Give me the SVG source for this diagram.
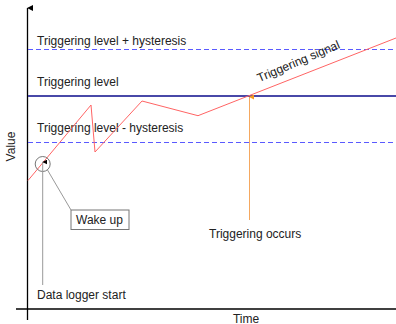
<svg xmlns="http://www.w3.org/2000/svg" width="396" height="324" viewBox="0 0 396 324">
<defs>
<style>
text{font-family:"Liberation Sans",Arial,sans-serif;font-size:12px;fill:#222}
.dash{stroke:#5a5aff;stroke-width:1;stroke-dasharray:5,3;fill:none}
.axis{stroke:#000;stroke-width:1.3;fill:none}
.gray{stroke:#999;stroke-width:1;fill:none}
</style>
<marker id="ah" viewBox="0 0 6 6" refX="3" refY="0.5" markerWidth="6" markerHeight="6" orient="auto-start-reverse" markerUnits="userSpaceOnUse">
<path d="M0,6 L3,0 L6,6 Z" fill="#000"/>
</marker>
<marker id="ahs" viewBox="0 0 6 6" refX="3" refY="0.5" markerWidth="5" markerHeight="5" orient="auto-start-reverse" markerUnits="userSpaceOnUse">
<path d="M0,6 L3,0 L6,6 Z" fill="#000"/>
</marker>
<marker id="aho" viewBox="0 0 6 6" refX="3" refY="0.5" markerWidth="5" markerHeight="5" orient="auto-start-reverse" markerUnits="userSpaceOnUse">
<path d="M0,6 L3,0 L6,6 Z" fill="#f59a20"/>
</marker>
</defs>
<g id="axes">
<line class="axis" x1="27.5" y1="320" x2="27.5" y2="8" marker-end="url(#ah)"/>
<line class="axis" x1="16" y1="309" x2="396" y2="309"/>
<text x="15" y="146.5" text-anchor="middle" transform="rotate(-90 15 146.5)">Value</text>
<text x="246" y="322.5" text-anchor="middle">Time</text>
</g>
<g id="levels">
<line class="dash" x1="28" y1="49.5" x2="396" y2="49.5"/>
<line x1="28" y1="96" x2="396" y2="96" stroke="#4848a8" stroke-width="1.8"/>
<line class="dash" x1="28" y1="142.5" x2="396" y2="142.5"/>
<text x="37" y="45">Triggering level + hysteresis</text>
<text x="37" y="86">Triggering level</text>
<text x="37" y="132">Triggering level - hysteresis</text>
</g>
<g id="signal">
<polyline points="28,180.5 91,105 95,152 142,101 198,115.7 396,38" fill="none" stroke="#ff6464" stroke-width="1"/>
<text x="300" y="65" text-anchor="middle" transform="rotate(-23 300 65)">Triggering signal</text>
</g>
<g id="wake">
<circle cx="42.7" cy="164" r="7.5" fill="none" stroke="#777" stroke-width="1"/>
<rect x="71" y="210" width="58" height="19.5" fill="#fff" stroke="#777" stroke-width="1"/>
<text x="76" y="224">Wake up</text>
</g>
<g id="labels">
<text x="37" y="299">Data logger start</text>
<text x="209" y="237.5">Triggering occurs</text>
</g>
<g id="connectors">
<line class="gray" x1="42.7" y1="285" x2="42.7" y2="162" marker-end="url(#ahs)"/>
<line class="gray" x1="47.5" y1="170" x2="71" y2="210"/>
<line x1="249.5" y1="220" x2="249.5" y2="97" stroke="#f5a860" stroke-width="1" marker-end="url(#aho)"/>
</g>
</svg>
